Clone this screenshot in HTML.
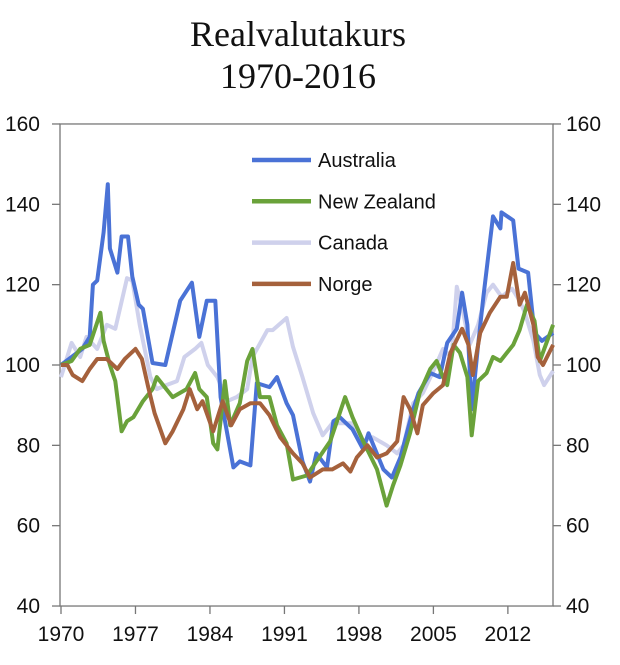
<!DOCTYPE html>
<html><head><meta charset="utf-8"><style>
body{margin:0;background:#fff;}
svg{display:block;font-family:"Liberation Sans",sans-serif;}
</style></head><body>
<svg id="chart" width="620" height="665">
<text x="298" y="46" text-anchor="middle" font-family="Liberation Serif, serif" font-size="36" fill="#111">Realvalutakurs</text>
<text x="298" y="88" text-anchor="middle" font-family="Liberation Serif, serif" font-size="36" fill="#111">1970-2016</text>
<g id="axes"></g><g id="series"></g><g id="legend"></g>
</svg>
<script>
const ausYears=[1970,1971,1972,1972.7,1973,1973.4,1974,1974.4,1974.6,1975.3,1975.7,1976.3,1976.7,1977.3,1977.7,1978.6,1979.8,1981.2,1982.3,1983,1983.7,1984.5,1985,1986.2,1986.8,1987.8,1988.4,1989.6,1990.3,1991.2,1991.8,1992.7,1993.4,1994,1995,1995.6,1996.2,1997.4,1998.4,1998.9,2000.3,2001.1,2001.9,2003.1,2003.6,2004.7,2005.6,2006.3,2007.2,2007.7,2008.2,2008.6,2009.2,2009.7,2010.1,2010.6,2011.3,2011.4,2012.5,2013,2013.9,2014.5,2015.2,2016.25];
const ausValues=[100,102,104,107,120,121,133,145,129,123,132,132,122,115,114,100.5,100,116,120.5,107,116,116,92,74.5,76,75,95.5,94.5,97,90.5,87.5,76,71,78,74.5,86,87,84,79,83,74,72,77,89,93,98,97,105.5,109,118,110,89,105,117,126,137,134,138,136,124,123,108,106,108];
const nzYears=[1970,1971,1971.8,1972.7,1973.7,1974,1974.6,1975.1,1975.7,1976.2,1976.8,1977.7,1978.6,1979,1979.9,1980.5,1981.8,1982.6,1983,1983.7,1984.3,1984.7,1985.4,1985.9,1986.8,1987.5,1988,1988.7,1989.6,1990.3,1991.2,1991.8,1993.1,1994,1995.3,1996.7,1997.4,1998.4,1999.7,2000.6,2001.2,2001.9,2002.8,2003.7,2004.7,2005.3,2005.9,2006.3,2006.9,2007.5,2008.2,2008.6,2009.2,2010,2010.6,2011.3,2011.9,2012.5,2013.1,2013.8,2014.5,2015,2016.25];
const nzValues=[100,101,104,105,113,106,100,96,83.5,86,87,91,94,97,94,92,94,98,94,92,80.5,79,96,85,90.5,101,104,92,92,85,80.5,71.5,72.5,76,81,92,87,81,74,65,70,75,83,93,99,101,97,95,105,103,97,82.5,96,98,102,101,103,105,108.7,115,111,101,110];
const canYears=[1970,1971,1971.8,1972.4,1973.4,1974.3,1975.1,1976.2,1976.7,1977.4,1978.4,1979,1979.9,1980.9,1981.6,1982.6,1983.2,1983.8,1984.7,1985.6,1986.5,1987.5,1988,1989.4,1989.9,1991.2,1991.8,1992.7,1993.7,1994.6,1995.5,1996.2,1997.4,1998.3,1999.3,2000.6,2001.6,2002.2,2003.1,2004,2005,2005.9,2006.7,2007.2,2007.8,2008.4,2009.2,2010,2010.6,2011.4,2012.4,2013.1,2013.6,2014.4,2015,2015.4,2016.25];
const canValues=[97,105.5,102,107,104,110,109,121.6,121,110,97,94,95,96,102,104,105.5,100,97,91,92,94,102,108.7,108.7,111.7,104.5,97,88,82.5,85.5,85.5,85.5,81,82,80,78,80,90.5,93,98.5,104,102,119.5,113,105,110,118,120,117,119,116,113,106,97.5,95,98.5];
const norYears=[1970,1970.6,1971.1,1972,1972.7,1973.4,1974.3,1975.3,1976,1977,1977.6,1978.2,1978.8,1979.8,1980.5,1981.5,1982.1,1982.8,1983.3,1984.3,1985.2,1986,1986.8,1987.8,1988.7,1989.6,1990.6,1991.8,1992.7,1993.4,1994.6,1995.5,1996.5,1997.2,1997.8,1998.8,1999.7,2000.6,2001.6,2002.2,2002.8,2003.5,2004,2005,2005.9,2006.6,2007.7,2008.3,2008.7,2009.4,2010.3,2011.3,2011.9,2012.5,2013.1,2013.6,2014.4,2014.8,2015.3,2016.25];
const norValues=[100,100,97.5,96,99,101.5,101.5,99,101.5,104,101.5,94.5,88,80.5,83.5,89,94,89,91,83.5,91,85,89,90.5,90.5,87.5,82,78,75.5,72,74,74,75.5,73.5,77,80,77,78,81,92,89,83,90,93,95,103,109,105,97.5,108,113,117,117,125.4,115,118,110,102,100,105];
const yTicks=[40,60,80,100,120,140,160];
const xTicks=[1970,1977,1984,1991,1998,2005,2012];
const seriesNames=["Australia","New Zealand","Canada","Norge"];

const NS="http://www.w3.org/2000/svg";
const X0=61,XPY=10.64,Y100=365,YPU=4.017;
const xs=y=>X0+(y-1970)*XPY;
const ys=v=>Y100-(v-100)*YPU;
const L=60,R=553,T=ys(160),B=ys(40);
function mk(tag,attrs,parent,txt){const e=document.createElementNS(NS,tag);for(const k in attrs)e.setAttribute(k,attrs[k]);if(txt!==undefined)e.textContent=txt;parent.appendChild(e);return e;}
const axes=document.getElementById('axes');
let fr=mk('rect',{x:L,y:T,width:R-L,height:B-T,fill:'none',stroke:'#777','stroke-width':1.3},axes);


yTicks.forEach(v=>{
 const y=ys(v);
 let t1=mk('line',{x1:L-8,x2:L,y1:y,y2:y,stroke:'#777','stroke-width':1.3},axes);
 
 
 let t2=mk('line',{x1:R,x2:R+8,y1:y,y2:y,stroke:'#777','stroke-width':1.3},axes);
 
 
 let l1=mk('text',{x:40,y:y+7,'text-anchor':'end','font-size':21,fill:'#111'},axes,String(v));
 
 
 let l2=mk('text',{x:566,y:y+7,'font-size':21,fill:'#111'},axes,String(v));
 
 
});
xTicks.forEach(yr=>{
 const x=xs(yr);
 let t=mk('line',{x1:x,x2:x,y1:B,y2:B+8,stroke:'#777','stroke-width':1.3},axes);
 
 
 let l=mk('text',{x:x,y:B+35,'text-anchor':'middle','font-size':21,fill:'#111'},axes,String(yr));
 
 
});
const sg=document.getElementById('series');
function line(years,vals,color,name){
 const d=years.map((y,i)=>(i?'L':'M')+xs(y).toFixed(1)+','+ys(vals[i]).toFixed(1)).join(' ');
 const p=mk('path',{d:d,fill:'none',stroke:color,'stroke-width':4,'stroke-linejoin':'round'},sg);
 
 
}
const colors=['#4a72d6','#6aa23a','#cfd1ec','#a5613c'];
line(canYears,canValues,colors[2],'canada-line');
line(ausYears,ausValues,colors[0],'australia-line');
line(nzYears,nzValues,colors[1],'new-zealand-line');
line(norYears,norValues,colors[3],'norge-line');
const lg=document.getElementById('legend');
seriesNames.forEach((n,i)=>{
 const y=160+i*41.3;
 let ln=mk('line',{x1:252,x2:311,y1:y,y2:y,stroke:colors[i],'stroke-width':4.5},lg);
 
 
 let t=mk('text',{x:318,y:y+7,'font-size':20,fill:'#111'},lg,n);
 
 
});
</script>
</body></html>
